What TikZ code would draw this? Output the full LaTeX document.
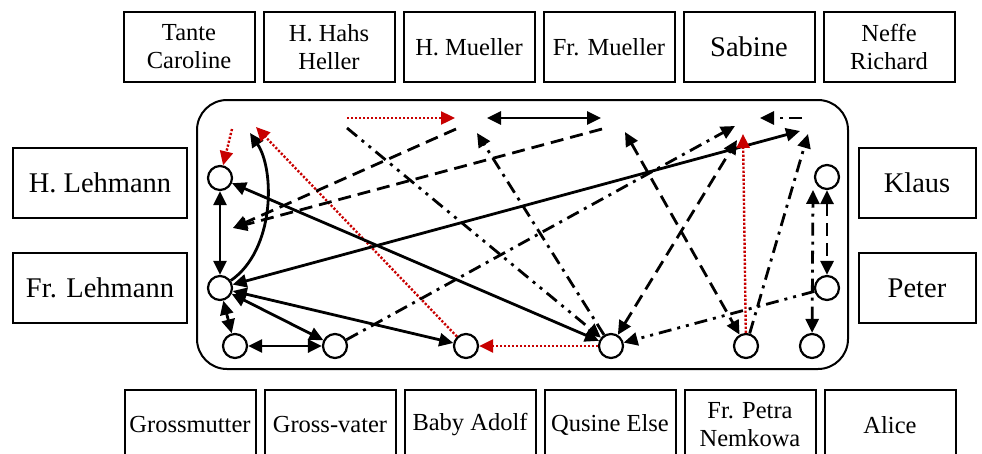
\documentclass[tikz,border=0pt]{standalone}
\usepackage{fontspec}
\setmainfont{Liberation Serif}
\usepackage{tikz}
\usetikzlibrary{arrows.meta}
\definecolor{redline}{RGB}{200,0,0}

\begin{document}
\begin{tikzpicture}[x=1pt, y=-1pt,
    box/.style={draw, line width=2pt, minimum width=131pt, minimum height=70pt, inner sep=0pt, align=center, font=\fontsize{24.5}{28}\selectfont},
    sidebox/.style={box, minimum width=174pt, font=\fontsize{28.5}{32}\selectfont},
    person/.style={draw, circle, line width=2.2pt, minimum size=24pt, inner sep=0pt},
    rel/.style={line width=2.8pt, >={Triangle[length=14pt,width=13pt]}},
    dashrel/.style={rel, dash pattern=on 13pt off 7pt},
    dotrel/.style={rel, dash pattern=on 13pt off 6pt on 3pt off 6pt},
    ddotrel/.style={rel, dash pattern=on 13pt off 6pt on 3pt off 6pt on 3pt off 6pt},
    redrel/.style={line width=2.4pt, redline, dash pattern=on 2.2pt off 1.8pt, >={Triangle[length=14pt,width=13pt]}}]
    \useasboundingbox (0,0) rectangle (982,453);
    \clip (0,0) rectangle (982,453);
    % boxes
    \node [box] (40) at (189, 47) {Tante\\Caroline};
    \node [box] (41) at (329, 47) {H. Hahs\\Heller};
    \node [box] (42) at (469, 47) {H. Mueller};
    \node [box] (43) at (609, 47) {Fr. Mueller};
    \node [box, font=\fontsize{28.5}{32}\selectfont] (44) at (749, 47) {Sabine};
    \node [box] (45) at (889, 47) {Neffe\\Richard};
    \node [box] (46) at (190, 425) {Grossmutter};
    \node [box] (47) at (330, 425) {Gross-vater};
    \node [box] (48) at (470, 425) {Baby Adolf};
    \node [box] (49) at (610, 425) {Qusine Else};
    \node [box] (50) at (750, 425) {Fr. Petra\\Nemkowa};
    \node [box] (51) at (890, 425) {Alice};
    \node [sidebox] (52) at (100, 183) {H. Lehmann};
    \node [sidebox] (53) at (100, 288) {Fr. Lehmann};
    \node [sidebox, minimum width=117pt] (54) at (917, 183) {Klaus};
    \node [sidebox, minimum width=117pt] (55) at (917, 288) {Peter};
    \draw [line width=2pt, rounded corners=30pt] (197, 100) rectangle (848, 369);
    % persons
    \node [person] (0) at (220, 178) {};
    \node [person] (1) at (220, 288) {};
    \node [person] (2) at (235, 346) {};
    \node [person] (3) at (335, 346) {};
    \node [person] (4) at (466, 346) {};
    \node [person] (5) at (611, 346) {};
    \node [person] (6) at (746, 346) {};
    \node [person] (7) at (812, 346) {};
    \node [person] (8) at (827, 177) {};
    \node [person] (9) at (827, 288) {};
    % free ends
    \coordinate (10) at (232, 129);
    \coordinate (11) at (250, 133);
    \coordinate (12) at (256, 127);
    \coordinate (13) at (347, 118);
    \coordinate (14) at (455, 118);
    \coordinate (15) at (487, 118);
    \coordinate (16) at (601, 118);
    \coordinate (17) at (456, 129);
    \coordinate (18) at (602, 129);
    \coordinate (19) at (233, 228);
    \coordinate (20) at (347, 128);
    \coordinate (21) at (477, 133);
    \coordinate (22) at (625, 132);
    \coordinate (23) at (735, 126);
    \coordinate (24) at (737, 140);
    \coordinate (25) at (743, 134);
    \coordinate (26) at (800, 131);
    \coordinate (27) at (808, 134);
    \coordinate (28) at (802, 118);
    \coordinate (29) at (760, 118);
    \coordinate (30) at (813, 190);
    % edges
    \draw [redrel, ->] (10) to (0);
    \draw [rel, ->] (1) .. controls (275, 250) and (275, 170) .. (11);
    \draw [redrel, ->] (4) to (12);
    \draw [redrel, ->] (13) to (14);
    \draw [rel, <->] (15) to (16);
    \draw [dashrel, ->] (17) to (19);
    \draw [dashrel, ->] (18) to (19);
    \draw [rel, <->] (0) to (1);
    \draw [rel, <->] (0) to (5);
    \draw [rel, <->] (1) to (26);
    \draw [rel, <->] (1) to (4);
    \draw [rel, <->] (1) to (3);
    \draw [rel, <->] (1) to (2);
    \draw [rel, <->] (2) to (3);
    \draw [dotrel, ->] (3) to (23);
    \draw [ddotrel, ->] (20) to (5);
    \draw [dotrel, ->] (5) to (21);
    \draw [dashrel, <->] (22) to (6);
    \draw [dashrel, <->] (5) to (24);
    \draw [redrel, ->] (6) to (25);
    \draw [redrel, ->] (5) to (4);
    \draw [dotrel, ->] (6) to (27);
    \draw [dotrel, ->] (28) to (29);
    \draw [dotrel, <->] (7) to (30);
    \draw [dashrel, <->] (8) to (9);
    \draw [ddotrel, ->] (9) to (5);
\end{tikzpicture}
\end{document}
